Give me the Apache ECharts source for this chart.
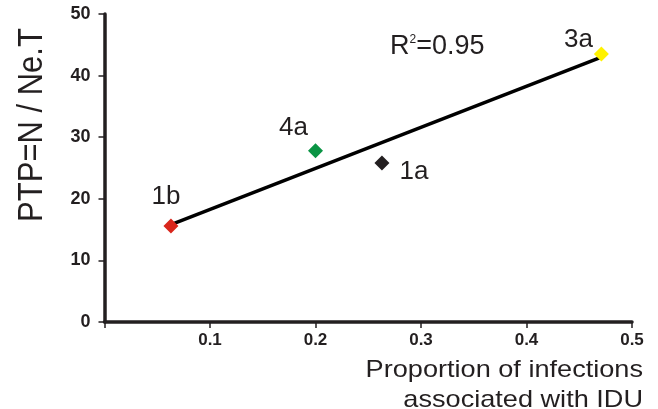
<!DOCTYPE html>
<html>
<head>
<meta charset="utf-8">
<script src="https://cdn.jsdelivr.net/npm/echarts@6/dist/echarts.min.js"></script>
<style>
  html, body { margin: 0; padding: 0; background: #fff; }
  #chart { width: 658px; height: 409px; }
</style>
</head>
<body>
<div id="chart"></div>
<script>
// points
const names = ['1b', '4a', '1a', '3a'];
const xVals = [0.063, 0.2, 0.263, 0.471];
const yVals = [15.6, 27.8, 25.8, 43.5];
const colors = ['#d9261c', '#0a9444', '#231f20', '#fff200'];
// label offsets from marker centre
const labelOffsets = [[-5, -29], [-22, -23], [32, 9], [-23, -14]];

// fitted line ends
const fitX = [0.063, 0.471];
const fitY = [15.8, 43.0];

const xTicks = [0, 0.1, 0.2, 0.3, 0.4, 0.5];
const yTicks = [0, 10, 20, 30, 40, 50];

const font = '"Liberation Sans", Arial, sans-serif';
const ink = '#231f20';

var chart = echarts.init(document.getElementById('chart'));

var pts = names.map(function (n, i) {
    return {
        name: n,
        value: [xVals[i], yVals[i]],
        itemStyle: { color: colors[i], opacity: 1 },
        label: { offset: labelOffsets[i] }
    };
});

option = {
    animation: false,
    grid: { left: 104.5, right: 26, top: 14, bottom: 87 },
    xAxis: {
        type: 'value',
        min: xTicks[0],
        max: xTicks[xTicks.length - 1],
        interval: 0.1,
        splitLine: { show: false },
        axisLine: { lineStyle: { color: ink, width: 3.5 } },
        axisTick: { show: true, length: 6, lineStyle: { color: ink, width: 1.5 } },
        axisLabel: {
            margin: 10,
            color: ink,
            fontFamily: font,
            fontWeight: 'bold',
            fontSize: 17,
            formatter: function (v) { return v === 0 ? '' : v.toFixed(1); }
        }
    },
    yAxis: {
        type: 'value',
        min: yTicks[0],
        max: yTicks[yTicks.length - 1],
        interval: 10,
        splitLine: { show: false },
        axisLine: { show: true, lineStyle: { color: ink, width: 3.5 } },
        axisTick: { show: true, length: 6, lineStyle: { color: ink, width: 1.5 } },
        axisLabel: {
            margin: 14,
            color: ink,
            fontFamily: font,
            fontWeight: 'bold',
            fontSize: 18
        }
    },
    graphic: [
        {
            type: 'text',
            x: 32, y: 125,
            rotation: Math.PI / 2,
            scaleY: 1.15,
            style: {
                text: 'PTP=N / Ne.T',
                fill: ink,
                font: '31px ' + font,
                textAlign: 'center',
                textVerticalAlign: 'middle'
            }
        },
        {
            type: 'text',
            x: 643, y: 355,
            scaleX: 1.13,
            style: {
                text: 'Proportion of infections\nassociated with IDU',
                fill: ink,
                font: '24px ' + font,
                lineHeight: 30,
                textAlign: 'right',
                textVerticalAlign: 'top'
            }
        },
        {
            type: 'text',
            x: 390, y: 47,
            style: {
                text: '{r|R}{s|2}{r|=0.95}',
                textVerticalAlign: 'middle',
                rich: {
                    r: { fontFamily: font, fontSize: 27, fill: ink },
                    s: { fontFamily: font, fontSize: 12, fill: ink, verticalAlign: 'top', padding: [0, 0, 12, 0] }
                }
            }
        }
    ],
    series: [
        {
            type: 'line',
            data: fitX.map(function (x, i) { return [x, fitY[i]]; }),
            showSymbol: false,
            symbol: 'none',
            lineStyle: { color: '#000', width: 3.5 },
            z: 2
        },
        {
            type: 'scatter',
            symbol: 'diamond',
            symbolSize: 15,
            itemStyle: { opacity: 1 },
            data: pts,
            label: {
                show: true,
                position: 'inside',
                formatter: '{b}',
                color: ink,
                opacity: 1,
                fontFamily: font,
                fontSize: 26,
                align: 'center',
                verticalAlign: 'middle'
            },
            z: 3
        }
    ]
};
chart.setOption(option);
</script>
</body>
</html>
